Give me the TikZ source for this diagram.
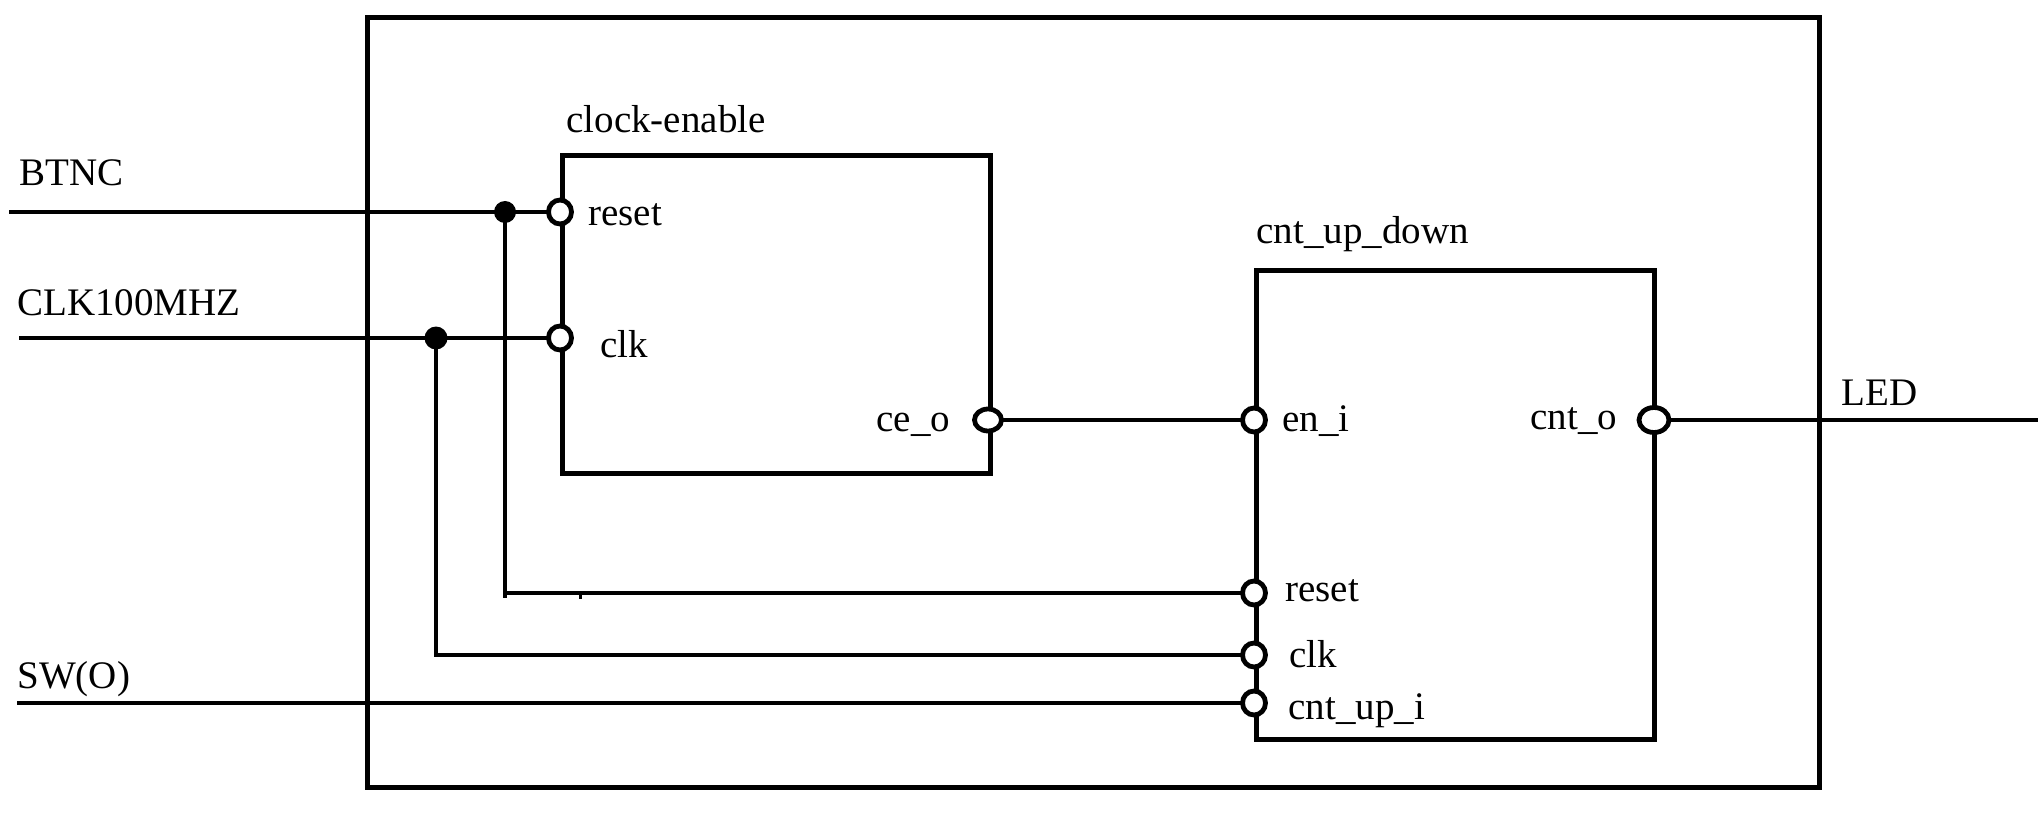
\documentclass[tikz,border=0pt]{standalone}
\usepackage{fontspec}
\setmainfont{Liberation Serif}
\usetikzlibrary{shapes.geometric}
\begin{document}
\begin{tikzpicture}[x=0.5pt,y=-0.5pt,
  wire/.style={line width=2.4pt},
  block/.style={draw,line width=2.4pt,rectangle,inner sep=0pt,anchor=north west},
  port/.style={draw,fill=white,line width=2.4pt,ellipse,inner sep=0pt,minimum width=11.5pt,minimum height=12pt},
  bigport/.style={port,minimum width=13.5pt,minimum height=11pt},
  outport/.style={port,minimum width=15pt,minimum height=12.5pt},
  junction/.style={fill,circle,inner sep=0pt,minimum size=11pt},
  txt/.style={inner sep=0pt,font=\fontsize{19.5pt}{22pt}\selectfont},
  lbl/.style={txt,anchor=base west}]
\useasboundingbox (0,0) rectangle (2038,818);

% enclosing top-level box and the two sub-blocks
\node[block,minimum width=726pt,minimum height=385pt] (top) at (365,15) {};
\node[block,minimum width=214pt,minimum height=159pt] (ce) at (560,153) {};
\node[block,minimum width=199pt,minimum height=234.5pt] (cnt) at (1254,268) {};

% block titles
\node[lbl] (ceTitle) at (566,133) {clock-enable};
\node[lbl] (cntTitle) at (1256,243) {cnt\_up\_down};

% external signal names
\node[lbl] (btncTxt) at (19,186) {BTNC};
\node[lbl] (clkTxt) at (17,315) {CLK100MHZ};
\node[lbl] (swTxt) at (17,688) {SW(O)};
\node[lbl] (ledTxt) at (1841,405) {LED};

% free wire ends
\coordinate (btncIn) at (9,212);
\coordinate (clkIn) at (19,338);
\coordinate (swIn) at (17,703);
\coordinate (ledOut) at (2038,420);

% junction dots
\node[junction] (jReset) at (505,212) {};
\node[junction,minimum size=11.5pt] (jClk) at (436,338) {};

% wires
\draw[wire] (btncIn) -- (560,212);
\draw[wire] (clkIn) -- (560,338);
\draw[wire] (jReset.center) |- (1254,593);
\draw[wire] (jClk.center) |- (1254,655);
\draw[wire] (swIn) -- (1254,703);
\draw[wire] (988,420) -- (1254,420);
\draw[wire] (1654,420) -- (ledOut);
\coordinate (tickA) at (580,593);
\coordinate (tickB) at (580,599);
\draw[line width=1.5pt] (tickA) -- (tickB);
\coordinate (stubA) at (505,593);
\coordinate (stubB) at (505,598);
\draw[line width=2pt] (stubA) -- (stubB);

% ports of clock-enable
\node[port] (ceReset) at (560,212) {};
\node[port] (ceClk) at (560,338) {};
\node[bigport] (ceO) at (988,420) {};
\node[lbl] at (588,226) {reset};
\node[lbl] at (600,357) {clk};
\node[lbl] at (876,431) {ce\_o};

% ports of cnt_up_down
\node[port] (enI) at (1254,420) {};
\node[port] (cntReset) at (1254,593) {};
\node[port] (cntClk) at (1254,655) {};
\node[port] (cntUpI) at (1254,703) {};
\node[outport] (cntO) at (1654,420) {};
\node[lbl] at (1282,431) {en\_i};
\node[lbl] at (1285,601) {reset};
\node[lbl] at (1289,667) {clk};
\node[lbl] at (1288,719) {cnt\_up\_i};
\node[lbl] at (1530,429) {cnt\_o};
\end{tikzpicture}
\end{document}
